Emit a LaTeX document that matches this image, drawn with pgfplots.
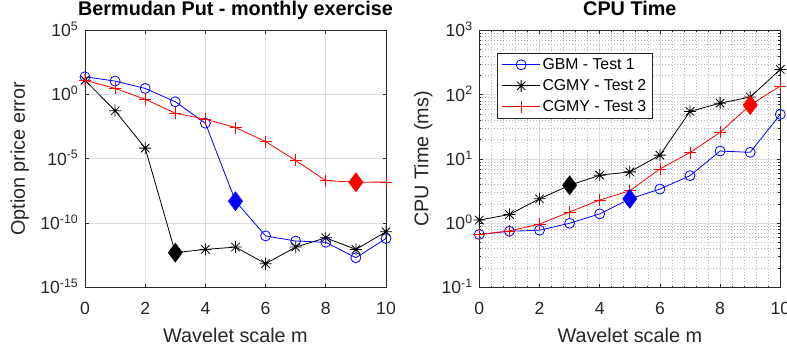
\documentclass[border=0pt]{standalone}
\usepackage{fontspec}
\setmainfont{Liberation Sans}
\usepackage{pgfplots}
\pgfplotsset{compat=1.18}
\definecolor{axgray}{rgb}{0.15,0.15,0.15}
\definecolor{gridgray}{rgb}{0.87,0.87,0.87}
\definecolor{mgridgray}{rgb}{0.72,0.72,0.72}
\pgfdeclareplotmark{mstar}{%
  \pgfpathmoveto{\pgfqpoint{0pt}{\pgfplotmarksize}}\pgfpathlineto{\pgfqpoint{0pt}{-\pgfplotmarksize}}%
  \pgfpathmoveto{\pgfqpoint{\pgfplotmarksize}{0pt}}\pgfpathlineto{\pgfqpoint{-\pgfplotmarksize}{0pt}}%
  \pgfpathmoveto{\pgfqpoint{.707\pgfplotmarksize}{.707\pgfplotmarksize}}\pgfpathlineto{\pgfqpoint{-.707\pgfplotmarksize}{-.707\pgfplotmarksize}}%
  \pgfpathmoveto{\pgfqpoint{-.707\pgfplotmarksize}{.707\pgfplotmarksize}}\pgfpathlineto{\pgfqpoint{.707\pgfplotmarksize}{-.707\pgfplotmarksize}}%
  \pgfusepathqstroke}
\newcommand\tickfont{\fontsize{17.6}{20}\selectfont}
\newcommand\labfont{\fontsize{19.8}{22}\selectfont}
\newcommand\legfont{\fontsize{15.8}{18}\selectfont}
\pgfplotsset{
  myaxstyle/.style={
    scale only axis, width=301pt, height=257pt,
    xmin=0, xmax=10, xtick={0,2,4,6,8,10}, xticklabels={0,2,4,6,8,10},
    enlargelimits=false, clip=false,
    axis line style={draw=axgray, line width=0.8pt},
    every tick/.style={draw=axgray, line width=0.8pt},
    major tick length=3.5pt, minor tick length=2pt,
    major grid style={draw=gridgray, line width=0.8pt},
    minor grid style={draw=mgridgray, line width=0.7pt, dash pattern=on 0.7pt off 2.3pt},
    tick label style={font=\tickfont, text=axgray},
    xticklabel style={anchor=base, inner sep=0pt, yshift=-26.7pt},
    yticklabel style={anchor=base east, inner sep=0pt, xshift=-6.5pt, yshift=-6.3pt},
    title style={at={(0.5,1)}, anchor=base, yshift=8.5pt, font=\labfont\bfseries, text=black},
    xlabel style={at={(0.5,0)}, anchor=base, yshift=-55.4pt, font=\labfont, text=axgray},
  },
  serblue/.style={color=blue, line width=0.8pt, mark=o, mark size=5pt, mark options={solid}},
  serblack/.style={color=black, line width=0.8pt, mark=mstar, mark size=6pt, mark options={solid}},
  serred/.style={color=red, line width=0.8pt, mark=+, mark size=6pt, mark options={solid}},
  serdiam/.style={only marks, mark=diamond*, mark size=9.5pt, line width=0.5pt, forget plot},
}
\begin{document}
\begin{tikzpicture}
\path[use as bounding box] (0,0) rectangle (787pt,-352pt);
\begin{axis}[myaxstyle, ymode=log, at={(85pt,-30.3pt)}, anchor=north west,
  ymin=1e-15, ymax=1e5, ytick={1e-15,1e-10,1e-5,1,1e5},
  yticklabels={10\textsuperscript{-15},10\textsuperscript{-10},10\textsuperscript{-5},10\textsuperscript{0},10\textsuperscript{5}},
  grid=major,
  title={Bermudan Put - monthly exercise},
  xlabel={Wavelet scale m}, ylabel={Option price error},
  ylabel style={at={(0,0.5)}, anchor=base, yshift=60pt, font=\labfont, text=axgray},
]
\addplot[serblue] coordinates {(0,24) (1,11.2) (2,3.0) (3,0.275) (4,5.9e-3) (5,5e-9) (6,1e-11) (7,4e-12) (8,3.2e-12) (9,2e-13) (10,6.3e-12)};
\addplot[serblack] coordinates {(0,13) (1,5.5e-2) (2,6.8e-5) (3,5e-13) (4,8.9e-13) (5,1.35e-12) (6,6.9e-14) (7,1.35e-12) (8,7.1e-12) (9,8.9e-13) (10,2.1e-11)};
\addplot[serred] coordinates {(0,13) (1,3.0) (2,0.43) (3,3.5e-2) (4,1.2e-2) (5,2.7e-3) (6,2.2e-4) (7,7.4e-6) (8,2.0e-7) (9,1.5e-7) (10,1.55e-7)};
\addplot[serdiam, color=black] coordinates {(3,5e-13)};
\addplot[serdiam, color=blue] coordinates {(5,5e-9)};
\addplot[serdiam, color=red] coordinates {(9,1.5e-7)};
\end{axis}
\begin{axis}[myaxstyle, ymode=log, at={(479.3pt,-30.5pt)}, anchor=north west,
  ymin=0.1, ymax=1000, ytick={0.1,1,10,100,1000},
  yticklabels={10\textsuperscript{-1},10\textsuperscript{0},10\textsuperscript{1},10\textsuperscript{2},10\textsuperscript{3}},
  minor ytick={0.2,0.3,0.4,0.5,0.6,0.7,0.8,0.9,2,3,4,5,6,7,8,9,20,30,40,50,60,70,80,90,200,300,400,500,600,700,800,900},
  minor x tick num=4, grid=both,
  title={CPU Time},
  xlabel={Wavelet scale m}, ylabel={CPU Time (ms)},
  ylabel style={at={(0,0.5)}, anchor=base, yshift=51pt, font=\labfont, text=axgray},
  legend image code/.code={\draw[mark repeat=2,mark phase=2,#1] plot coordinates {(0pt,0pt) (19pt,0pt) (38pt,0pt)};},
  legend style={at={(0.0599,0.914)}, anchor=north west, font=\legfont, text=black,
    draw=axgray, line width=0.8pt, fill=white, inner xsep=4pt, inner ysep=3.5pt, row sep=4.5pt,
    /tikz/every even column/.append style={column sep=4.5pt}},
  legend cell align=left,
]
\addplot[serblue] coordinates {(0,0.67) (1,0.75) (2,0.78) (3,1.0) (4,1.4) (5,2.4) (6,3.4) (7,5.5) (8,13.3) (9,12.7) (10,49.5)};
\addlegendentry{GBM - Test 1}
\addplot[serblack] coordinates {(0,1.12) (1,1.37) (2,2.4) (3,3.9) (4,5.6) (5,6.3) (6,11.5) (7,55) (8,74) (9,92) (10,248)};
\addlegendentry{CGMY - Test 2}
\addplot[serred] coordinates {(0,0.67) (1,0.76) (2,0.97) (3,1.5) (4,2.3) (5,3.2) (6,7.0) (7,12.6) (8,26) (9,69) (10,137)};
\addlegendentry{CGMY - Test 3}
\addplot[serdiam, color=black] coordinates {(3,3.9)};
\addplot[serdiam, color=blue] coordinates {(5,2.4)};
\addplot[serdiam, color=red] coordinates {(9,69)};
\end{axis}
\end{tikzpicture}
\end{document}
